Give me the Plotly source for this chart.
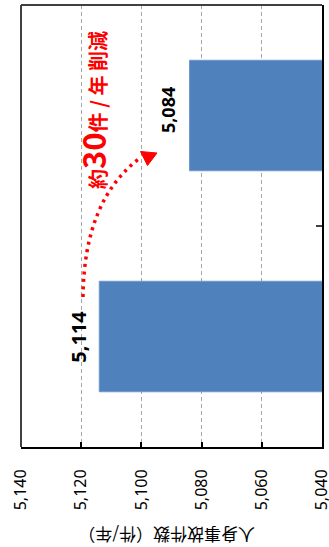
import plotly.graph_objects as go

# ---- data ----
categories = ["対策前", "対策後"]
values = [5114, 5084]
tick_vals = [5140, 5120, 5100, 5080, 5060, 5040]
x_min, x_max = 5040, 5140
axis_title = "人身事故件数（件/年）"
callout = "約<span style='font-size:31px'>30</span>件 / 年 削減"

W, H = 329, 547
L, R, T, B = 21, 7, 5, 100

fig = go.Figure()
fig.add_trace(go.Bar(
    y=categories, x=values, orientation="h", width=0.5,
    marker=dict(color="#4F81BD", line=dict(color="#6E98CB", width=1)),
    hoverinfo="skip",
))

pw, ph = W - L - R, H - T - B
def px(xp, yp):
    return (xp - L) / pw, (H - B - yp) / ph

# plot-area border (top & left in dark gray)
fig.add_shape(type="line", xref="paper", yref="paper", x0=0, x1=1, y0=1, y1=1,
              line=dict(color="#404040", width=2))
fig.add_shape(type="line", xref="paper", yref="paper", x0=0, x1=0, y0=0, y1=1,
              line=dict(color="#404040", width=2))

# dotted curved arrow (decoration)
p0, c, p2 = px(83, 297), px(84, 200), px(140, 158)
fig.add_shape(type="path", xref="paper", yref="paper",
              path=f"M {p0[0]},{p0[1]} Q {c[0]},{c[1]} {p2[0]},{p2[1]}",
              line=dict(color="#FF0000", width=3.5, dash="3px,4.5px"))
a, b_, cc = px(140.5, 151.5), px(157, 153), px(147.5, 165.5)
fig.add_shape(type="path", xref="paper", yref="paper",
              path=f"M {a[0]},{a[1]} L {b_[0]},{b_[1]} L {cc[0]},{cc[1]} Z",
              fillcolor="#FF0000", line=dict(color="#FF0000", width=1))

# value labels
fonts = [dict(family="Noto Sans", size=20, color="#000000"),
         dict(family="Noto Sans", size=18, color="#000000")]
shifts = [(-21, 0), (-22, 5)]
for cat, v, f, (dx, dy) in zip(categories, values, fonts, shifts):
    fig.add_annotation(x=v, y=cat, xref="x", yref="y", text=f"<b>{v:,}</b>",
                       textangle=-90, showarrow=False, xshift=dx, yshift=dy,
                       font=f, xanchor="center", yanchor="middle")

# red callout
cx, cy = px(92, 110)
fig.add_annotation(x=cx, y=cy, xref="paper", yref="paper", text=f"<b>{callout}</b>",
                   textangle=-90, showarrow=False, xanchor="center", yanchor="middle",
                   font=dict(family="Noto Sans CJK JP", size=20, color="#FF0000"))

# axis title (upside down)
tx, ty = px(167, 536)
fig.add_annotation(x=tx, y=ty, xref="paper", yref="paper", text=axis_title,
                   textangle=180, showarrow=False, xanchor="center", yanchor="middle",
                   font=dict(family="Noto Sans CJK JP", size=17, color="#000000"))

fig.update_layout(
    width=W, height=H, margin=dict(l=L, r=R, t=T, b=B, autoexpand=False),
    paper_bgcolor="white", plot_bgcolor="white", showlegend=False,
    xaxis=dict(range=[x_max + 0.001, x_min - 0.001], tickmode="array", tickvals=tick_vals,
               ticktext=[f"{t:,}" for t in tick_vals], ticklabeloverflow="allow",
               automargin=False,
               tickangle=-90, ticks="inside", ticklen=5, tickwidth=2, tickcolor="#000000",
               showline=True, linecolor="#000000", linewidth=2,
               showgrid=True, gridcolor="#A6A6A6", gridwidth=1, griddash="4px,3px",
               zeroline=False, ticklabelstandoff=14,
               tickfont=dict(family="Noto Sans", size=16, color="#000000")),
    yaxis=dict(side="right", showticklabels=False, showline=True, linecolor="#000000",
               linewidth=2, ticks="inside", ticklen=6, tickwidth=2, tickcolor="#404040",
               tickson="boundaries", showgrid=False, zeroline=False, automargin=False),
)

fig.write_html("out.html")
